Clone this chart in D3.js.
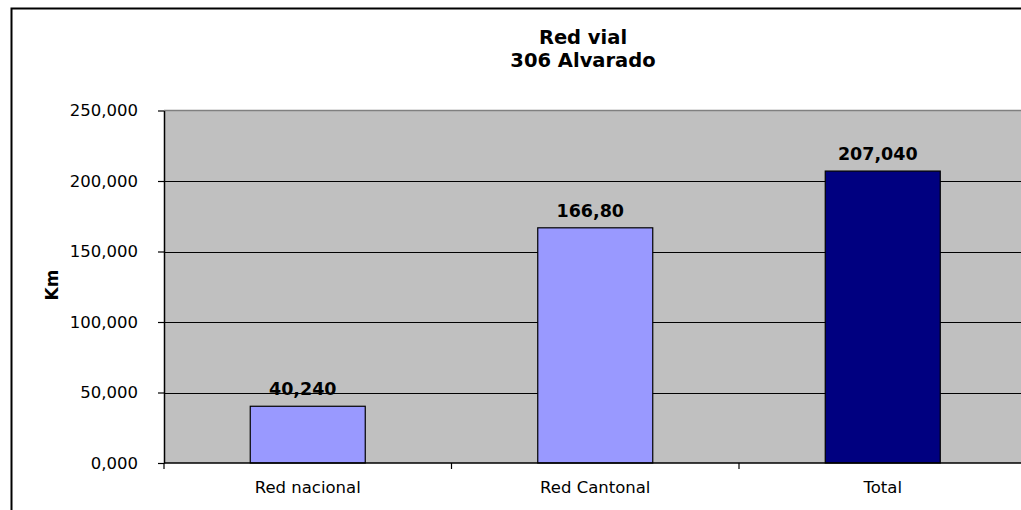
<!DOCTYPE html>
<html>
<head>
<meta charset="utf-8">
<script src="https://cdn.jsdelivr.net/npm/d3@7"></script>
<style>
  html, body { margin: 0; padding: 0; background: #fff; overflow: hidden; }
  svg { display: block; font-family: "DejaVu Sans", Verdana, sans-serif; }
</style>
</head>
<body>
<svg id="chart" width="1021" height="510"></svg>
<script>
// Road network length for canton 306 Alvarado (km)
const categories = ["Red nacional", "Red Cantonal", "Total"];
const values = [40.240, 166.80, 207.040];
const valueLabels = ["40,240", "166,80", "207,040"];
const barColors = ["#9999FF", "#9999FF", "#000080"];
const yTicks = [0, 50, 100, 150, 200, 250];
const titleLines = ["Red vial", "306 Alvarado"];

const svg = d3.select("#chart");

// outer chart frame: left and top edges only, the rest runs past the canvas
svg.append("path")
  .attr("d", "M11.5,510 V8.5 H1021")
  .attr("fill", "none").attr("stroke", "#000").attr("stroke-width", 2);

const plot = { left: 164, top: 110.5, right: 1026.5, bottom: 463 };

const x = d3.scaleBand().domain(categories)
  .range([plot.left, plot.right]).padding(0);
const y = d3.scaleLinear().domain([0, 250])
  .range([plot.bottom, plot.top]);

// plot background
svg.append("rect")
  .attr("x", plot.left).attr("y", plot.top)
  .attr("width", plot.right - plot.left).attr("height", plot.bottom - plot.top)
  .attr("fill", "#C0C0C0");

// horizontal gridlines
svg.append("g").selectAll("line")
  .data(yTicks.filter(t => t > 0 && t < 250))
  .join("line")
  .attr("x1", plot.left).attr("x2", plot.right)
  .attr("y1", d => Math.round(y(d)) + 0.5).attr("y2", d => Math.round(y(d)) + 0.5)
  .attr("stroke", "#000").attr("stroke-width", 1);

// top border of plot area
svg.append("line")
  .attr("x1", plot.left).attr("x2", plot.right)
  .attr("y1", plot.top).attr("y2", plot.top)
  .attr("stroke", "#808080").attr("stroke-width", 1.5);

// bars
const barW = x.bandwidth() * 0.4;
svg.append("g").selectAll("rect")
  .data(categories)
  .join("rect")
  .attr("x", d => x(d) + (x.bandwidth() - barW) / 2)
  .attr("y", (d, i) => y(values[i]))
  .attr("width", barW)
  .attr("height", (d, i) => y(0) - y(values[i]))
  .attr("fill", (d, i) => barColors[i])
  .attr("stroke", "#000").attr("stroke-width", 1.2);

// value labels
svg.append("g").selectAll("text")
  .data(categories)
  .join("text")
  .attr("x", d => x(d) + x.bandwidth() / 2 - 5)
  .attr("y", (d, i) => y(values[i]) - 11)
  .attr("text-anchor", "middle")
  .attr("font-size", 17.5).attr("font-weight", "bold").attr("fill", "#000")
  .text((d, i) => valueLabels[i]);

// y axis
const yAxis = d3.axisLeft(y).tickValues(yTicks)
  .tickFormat(d => d3.format(".3f")(d).replace(".", ","))
  .tickSize(6).tickPadding(20).tickSizeOuter(0);
const gy = svg.append("g")
  .attr("transform", `translate(${plot.left},0)`)
  .call(yAxis);
gy.select(".domain").attr("stroke", "#000").attr("stroke-width", 1.5);
gy.selectAll(".tick line").attr("stroke", "#000").attr("stroke-width", 1.2);
gy.selectAll(".tick text")
  .attr("font-size", 16.5).attr("font-family", "DejaVu Sans").attr("fill", "#000");

// x axis
const tickPositions = categories.map(c => x(c)).concat([plot.right]);
const gx = svg.append("g");
gx.append("line")
  .attr("x1", plot.left).attr("x2", plot.right)
  .attr("y1", plot.bottom).attr("y2", plot.bottom)
  .attr("stroke", "#000").attr("stroke-width", 1.5);
gx.selectAll("line.tk")
  .data(tickPositions)
  .join("line").attr("class", "tk")
  .attr("x1", d => d).attr("x2", d => d)
  .attr("y1", plot.bottom).attr("y2", plot.bottom + 6)
  .attr("stroke", "#000").attr("stroke-width", 1.2);
gx.selectAll("text")
  .data(categories)
  .join("text")
  .attr("x", d => x(d) + x.bandwidth() / 2)
  .attr("y", 493)
  .attr("text-anchor", "middle")
  .attr("font-size", 16.5).attr("fill", "#000")
  .text(d => d);

// y axis title
svg.append("text")
  .attr("transform", "translate(58,285) rotate(-90)")
  .attr("text-anchor", "middle")
  .attr("font-size", 17).attr("font-weight", "bold")
  .text("Km");

// chart title
svg.append("g").selectAll("text")
  .data(titleLines)
  .join("text")
  .attr("x", 583)
  .attr("y", (d, i) => 44 + i * 22.5)
  .attr("text-anchor", "middle")
  .attr("font-size", 19.5).attr("font-weight", "bold")
  .text(d => d);
</script>
</body>
</html>
